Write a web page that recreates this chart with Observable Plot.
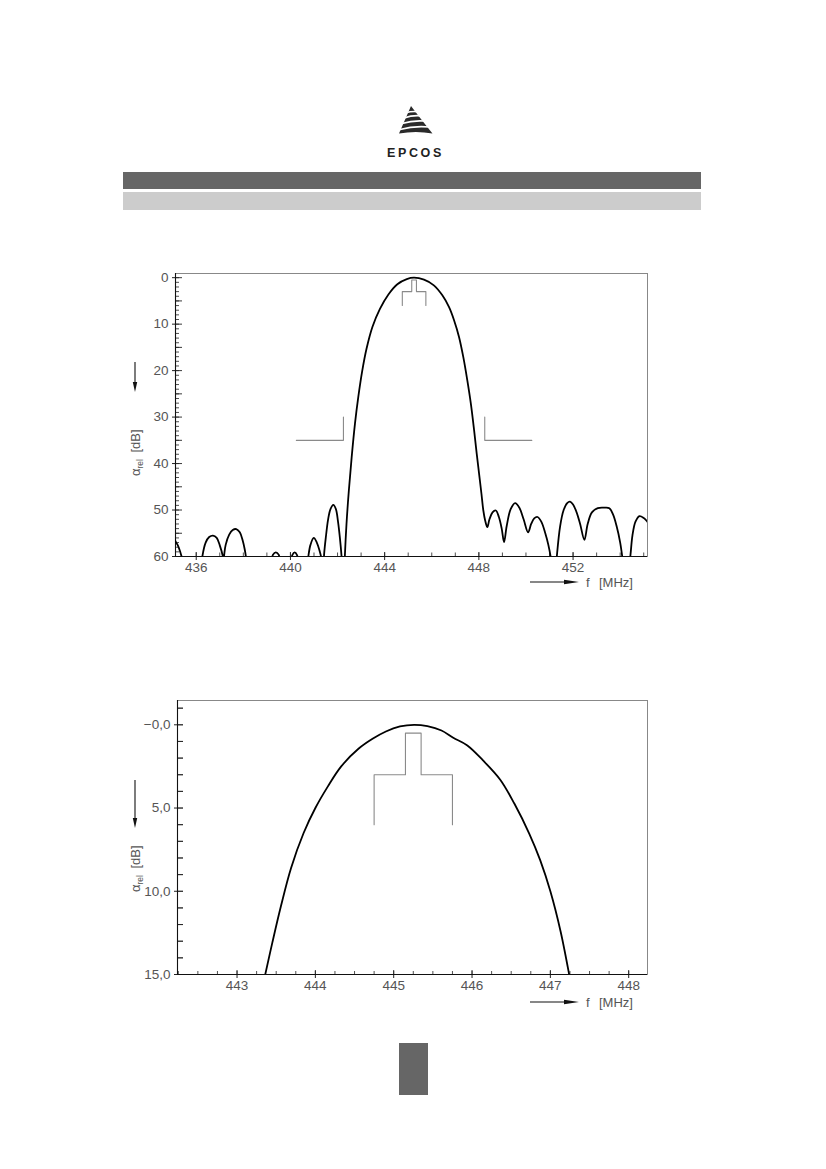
<!DOCTYPE html>
<html>
<head>
<meta charset="utf-8">
<script src="https://cdn.jsdelivr.net/npm/d3@7"></script>
<script src="https://cdn.jsdelivr.net/npm/@observablehq/plot@0.6"></script>
<style>
  html, body { margin: 0; padding: 0; background: #fff; }
  body { width: 826px; height: 1169px; position: relative; overflow: hidden; font-family: "Liberation Sans", Arial, sans-serif; }
  .abs { position: absolute; }
</style>
</head>
<body>
<!-- header logo -->
<svg class="abs" style="left:380px;top:100px" width="70" height="65" viewBox="0 0 70 65">
  <path d="M31,6 L19,33.5 Q36,30.5 52.5,33.5 Q40,18 31,6 Z" fill="#2a2a2a"/>
  <g fill="none" stroke="#fff" stroke-width="1.7">
    <path d="M26,12.8 Q31,11.2 36.5,11.6"/>
    <path d="M24,18 Q32,15.2 40.5,15.8"/>
    <path d="M22,23.5 Q33,20 45,21"/>
    <path d="M20,29.5 Q34,25.5 49.5,27"/>
  </g>
  <text x="35.5" y="57.3" text-anchor="middle" font-family="Liberation Sans, Arial, sans-serif" font-weight="bold" font-size="12.5" letter-spacing="2.6" fill="#222">EPCOS</text>
</svg>
<div class="abs" style="left:123px;top:172px;width:578px;height:17px;background:#666;"></div>
<div class="abs" style="left:123px;top:192px;width:578px;height:18px;background:#ccc;"></div>
<div class="abs" style="left:399px;top:1043px;width:29px;height:52px;background:#666;"></div>

<div id="chart1" class="abs" style="left:0;top:253px"></div>
<div id="chart2" class="abs" style="left:0;top:680px"></div>

<!-- axis labels overlay -->
<svg class="abs" style="left:0;top:0" width="826" height="1169" id="overlay"></svg>

<script>
// ---------------- DATA ----------------
// Top chart: wide-band attenuation (f in MHz, attenuation in dB)
const freqTop = [
  435.05, 435.15, 435.22, 435.32, 435.40, 435.50, 435.80, 436.15,
  436.26, 436.40, 436.55, 436.71, 436.87, 437.00, 437.13, 437.155,
  437.19, 437.25, 437.40, 437.55, 437.70, 437.85, 437.97, 438.06, 438.12, 438.20,
  438.60, 439.10, 439.20, 439.26, 439.38, 439.50, 439.56, 439.80,
  440.00, 440.08, 440.18, 440.28, 440.35, 440.55,
  440.70, 440.76, 440.85, 440.99, 441.12, 441.24, 441.32, 441.37,
  441.40, 441.43, 441.50, 441.60, 441.70, 441.82, 441.93, 442.02, 442.10, 442.17, 442.22,
  442.27, 442.31, 442.38, 442.48, 442.60, 442.74, 442.88, 443.05, 443.23, 443.48, 443.80,
  444.16, 444.54, 444.94, 445.25, 445.67, 446.09, 446.45, 446.73, 446.95, 447.16,
  447.34, 447.51, 447.66, 447.80, 447.91, 448.01, 448.11, 448.19, 448.27, 448.36,
  448.45, 448.58, 448.72,
  448.85, 448.97, 449.07, 449.18, 449.35, 449.54, 449.72, 449.90, 450.09, 450.22,
  450.35, 450.49, 450.65, 450.82, 450.95, 451.06, 451.15, 451.25, 451.31, 451.45,
  451.60, 451.75, 451.87, 452.00, 452.15, 452.30, 452.48, 452.62, 452.80, 453.05,
  453.30, 453.54, 453.70, 453.85, 454.00, 454.10, 454.25, 454.43, 454.52, 454.65,
  454.82, 455.00, 455.10, 455.20
];
const attTop = [
  56.0, 57.0, 57.6, 59.0, 60.5, 66.0, 75.0, 66.0,
  60.0, 57.0, 55.8, 55.5, 56.0, 57.6, 60.0, 61.5,
  59.5, 57.5, 55.3, 54.3, 54.1, 54.8, 56.5, 58.5, 60.5, 66.0,
  75.0, 66.0, 61.0, 59.6, 59.1, 59.6, 61.0, 70.0,
  62.0, 59.7, 59.1, 59.7, 62.0, 68.0,
  62.5, 60.0, 57.5, 56.0, 57.0, 58.8, 60.5, 62.0,
  62.0, 59.5, 56.0, 52.0, 49.8, 48.9, 49.8, 52.5, 56.0, 60.0, 65.0,
  66.0, 60.0, 53.0, 45.8, 38.6, 31.4, 25.7, 20.0, 15.3, 10.6, 6.7,
  3.6, 1.4, 0.3, 0.0, 0.43, 1.65, 3.8, 6.3, 9.2, 12.8,
  17.1, 22.1, 27.1, 32.9, 37.9, 42.2, 46.5, 50.1, 52.3, 53.7,
  52.0, 50.5, 50.1,
  51.5, 54.0, 56.9, 53.5, 49.8, 48.5, 49.5, 52.0, 54.8, 53.0,
  51.8, 51.5, 52.5, 55.0, 57.5, 60.5, 66.0, 64.0, 60.0, 53.5,
  50.0, 48.5, 48.2, 48.8, 50.5, 53.0, 56.4, 53.0, 50.5, 49.6,
  49.5, 49.6, 51.0, 53.5, 57.0, 60.5, 67.0, 60.0, 55.5, 52.5,
  51.3, 51.7, 52.2, 52.8
];

// Bottom chart: passband detail
const freqBottom = [
  443.32, 443.36, 443.45, 443.56, 443.69, 443.85, 444.00, 444.16, 444.33,
  444.55, 444.73, 444.90, 445.08, 445.26, 445.43, 445.61, 445.76, 445.94,
  446.14, 446.36, 446.54, 446.73, 446.87, 447.00, 447.13, 447.24, 447.27
];
const attBottom = [
  15.8, 15.0, 13.1, 10.9, 8.6, 6.5, 5.0, 3.7, 2.5,
  1.44, 0.84, 0.40, 0.10, 0.0, 0.08, 0.34, 0.78, 1.24,
  2.14, 3.3, 4.73, 6.53, 8.13, 10.0, 12.4, 15.0, 15.8
];

// Specification templates (grey)
const passTemplateF = [444.75, 444.75, 445.15, 445.15, 445.35, 445.35, 445.75, 445.75];
const passTemplateA = [6.0, 3.0, 3.0, 0.5, 0.5, 3.0, 3.0, 6.0];
const stopLeftF = [440.25, 442.25, 442.25];
const stopLeftA = [35, 35, 30];
const stopRightF = [448.25, 448.25, 450.25];
const stopRightA = [30, 35, 35];

// Tick labels
const xTicksTop = [436, 440, 444, 448, 452];
const yTicksTop = [0, 10, 20, 30, 40, 50, 60];
const yTickLabelsTop = ["0", "10", "20", "30", "40", "50", "60"];
const xTicksBottom = [443, 444, 445, 446, 447, 448];
const yTicksBottom = [0, 5, 10, 15];
const yTickLabelsBottom = ["\u22120,0", "5,0", "10,0", "15,0"];

// ---------------- CHART BUILDER ----------------
const toRows = (fs, as) => fs.map((f, i) => ({f, a: as[i]}));

function buildChart(cfg) {
  const W = 826;
  const plotW = W - cfg.mL - cfg.mR;
  const plotH = cfg.plotH;
  const tickColor = "#222";
  const marks = [
    Plot.frame({stroke: "#888", strokeWidth: 1}),
    ...cfg.templates.map(t => Plot.line(t, {x: "f", y: "a", stroke: "#8a8a8a", strokeWidth: 1.1})),
    Plot.ruleY(cfg.yMinor, {insetRight: plotW - cfg.yMinorLen, stroke: tickColor, strokeWidth: 0.8}),
    Plot.ruleY(cfg.yMid, {insetRight: plotW - cfg.yMidLen, stroke: tickColor, strokeWidth: 0.9}),
    Plot.axisY({ticks: cfg.yTicks, tickSize: 3, tickPadding: 4,
      tickFormat: d => cfg.yLabels[cfg.yTicks.indexOf(d)],
      fontSize: 13.5, fill: "#555", stroke: tickColor, label: null}),
    Plot.ruleX(cfg.xMinor, {insetTop: plotH - cfg.xMinorLen, stroke: tickColor, strokeWidth: 0.8}),
    Plot.ruleX(cfg.xTicks, {insetTop: plotH - 4, stroke: tickColor, strokeWidth: 0.9}),
    Plot.axisX({ticks: cfg.xTicks, tickSize: 4, tickPadding: 2,
      tickFormat: d => String(d), fontSize: 13.5, fill: "#555", stroke: tickColor, label: null}),
    Plot.ruleX([cfg.xDomain[0]], {stroke: "#111", strokeWidth: 1.1}),
    Plot.ruleY([cfg.yDomain[1]], {stroke: "#111", strokeWidth: 1.1}),
    Plot.line(cfg.data, {x: "f", y: "a", curve: "catmull-rom", stroke: "#000", strokeWidth: 1.8, clip: true})
  ];
  return Plot.plot({
    width: W,
    height: cfg.mT + plotH + cfg.mB,
    marginLeft: cfg.mL, marginRight: cfg.mR, marginTop: cfg.mT, marginBottom: cfg.mB,
    style: {fontFamily: "Liberation Sans, Arial, sans-serif", background: "transparent", color: "#222"},
    x: {domain: cfg.xDomain, label: null},
    y: {domain: cfg.yDomain, reverse: true, label: null},
    marks
  });
}

const chart1 = buildChart({
  data: toRows(freqTop, attTop),
  templates: [toRows(passTemplateF, passTemplateA), toRows(stopLeftF, stopLeftA), toRows(stopRightF, stopRightA)],
  xDomain: [435.12, 455.16], yDomain: [-0.9, 60],
  mL: 175, mR: 179, mT: 20, mB: 50, plotH: 283,
  xTicks: xTicksTop, xMinor: d3.range(436, 456, 1), xMinorLen: 3.5,
  yTicks: yTicksTop, yLabels: yTickLabelsTop,
  yMid: d3.range(0, 61, 5), yMidLen: 7,
  yMinor: d3.range(0, 61, 1), yMinorLen: 4
});
document.getElementById("chart1").appendChild(chart1);

const chart2 = buildChart({
  data: toRows(freqBottom, attBottom),
  templates: [toRows(passTemplateF, passTemplateA)],
  xDomain: [442.24, 448.24], yDomain: [-1.46, 15],
  mL: 177, mR: 179, mT: 20, mB: 50, plotH: 274,
  xTicks: xTicksBottom, xMinor: d3.range(442.25, 448.25, 0.25), xMinorLen: 3,
  yTicks: yTicksBottom, yLabels: yTickLabelsBottom,
  yMid: d3.range(-1, 15.5, 1), yMidLen: 6,
  yMinor: d3.range(-1, 15.5, 1), yMinorLen: 6
});
document.getElementById("chart2").appendChild(chart2);

// ---------------- AXIS TITLES (overlay) ----------------
const ov = d3.select("#overlay");
function xTitle(y) {
  ov.append("line").attr("x1", 530).attr("x2", 566).attr("y1", y).attr("y2", y).attr("stroke", "#111").attr("stroke-width", 1.1);
  ov.append("polygon").attr("points", `564,${y - 2.2} 579,${y} 564,${y + 2.2}`).attr("fill", "#111");
  const t = ov.append("text").attr("x", 586).attr("y", y + 5).attr("font-size", 13)
    .attr("fill", "#555").attr("font-family", "Liberation Sans, Arial, sans-serif");
  t.append("tspan").text("f");
  t.append("tspan").attr("x", 599).text("[MHz]");
}
function yTitle(x, arrowTop, arrowBottom, textStart) {
  ov.append("line").attr("x1", x).attr("x2", x).attr("y1", arrowTop).attr("y2", arrowBottom - 8).attr("stroke", "#111").attr("stroke-width", 1.1);
  ov.append("polygon").attr("points", `${x - 2.2},${arrowBottom - 10} ${x},${arrowBottom} ${x + 2.2},${arrowBottom - 10}`).attr("fill", "#111");
  const t = ov.append("text").attr("transform", `translate(140,${textStart}) rotate(-90)`)
    .attr("font-size", 13).attr("fill", "#555").attr("font-family", "Liberation Sans, Arial, sans-serif");
  t.append("tspan").text("\u03b1");
  t.append("tspan").attr("font-size", 8.5).attr("dy", 3).text("rel");
  t.append("tspan").attr("dy", -3).text("\u2002[dB]");
}
xTitle(582);
xTitle(1002);
yTitle(135, 362, 392, 476);
yTitle(135, 780, 828, 892);
</script>
</body>
</html>
